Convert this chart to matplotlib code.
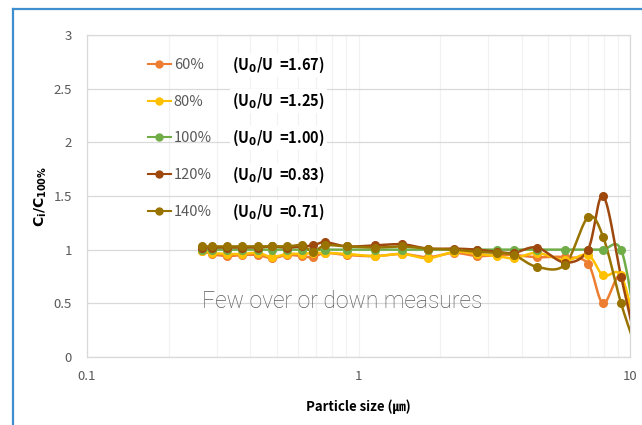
import numpy as np
import matplotlib
matplotlib.use("Agg")
import matplotlib.pyplot as plt
from matplotlib.lines import Line2D
from matplotlib.ticker import FixedLocator, NullFormatter

plt.rcParams['font.family'] = ['Noto Sans CJK KR', 'DejaVu Sans']

# Particle size bins (um)
sizes = [0.265, 0.288, 0.328, 0.373, 0.427, 0.48, 0.545, 0.62, 0.68, 0.753, 0.908,
         1.15, 1.45, 1.8, 2.25, 2.73, 3.24, 3.74, 4.54, 5.76, 7.0, 7.96, 9.27, 10.5]

# Concentration ratio C_i / C_100% for each flow setting
r60 = [0.99, 0.96, 0.94, 0.95, 0.95, 0.92, 0.95, 0.94, 0.93, 0.97, 0.95, 0.94,
       0.96, 0.93, 0.97, 0.94, 0.95, 0.95, 0.93, 0.93, 0.87, 0.50, 0.75, 0.09]
r80 = [0.99, 0.97, 0.96, 0.96, 0.97, 0.93, 0.96, 0.96, 0.97, 0.97, 0.96, 0.94,
       0.96, 0.92, 0.98, 0.96, 0.94, 0.92, 0.97, 0.90, 0.95, 0.76, 0.76, 0.25]
r100 = [1.00] * 23 + [0.31]
r120 = [1.02, 1.02, 1.02, 1.02, 1.02, 1.03, 1.02, 1.03, 1.04, 1.07, 1.03, 1.04,
        1.05, 1.01, 1.01, 1.00, 0.98, 0.97, 1.02, 0.88, 1.00, 1.50, 0.75, 0.14]
r140 = [1.03, 1.03, 1.03, 1.03, 1.03, 1.03, 1.03, 1.04, 0.98, 1.04, 1.03, 1.02,
        1.03, 1.01, 1.00, 0.98, 0.97, 0.95, 0.84, 0.86, 1.30, 1.12, 0.50, 0.09]

labels = ['60%', '80%', '100%', '120%', '140%']
ratios = ['1.67', '1.25', '1.00', '0.83', '0.71']
colors = ['#ED7D31', '#FFC000', '#70AD47', '#9E480E', '#997300']
series = [r60, r80, r100, r120, r140]


def smooth(x, y, n=30):
    """Catmull-Rom smoothing in log-x space (like a smoothed line chart)."""
    lx = np.log10(np.asarray(x, float))
    yy = np.asarray(y, float)
    P = np.column_stack([lx, yy])
    P = np.vstack([P[0], P, P[-1]])
    out = []
    t = np.linspace(0, 1, n, endpoint=False)[:, None]
    for i in range(1, len(P) - 2):
        p0, p1, p2, p3 = P[i - 1], P[i], P[i + 1], P[i + 2]
        c = 0.5 * ((2 * p1) + (-p0 + p2) * t + (2 * p0 - 5 * p1 + 4 * p2 - p3) * t ** 2
                   + (-p0 + 3 * p1 - 3 * p2 + p3) * t ** 3)
        out.append(c)
    out.append(P[-2][None, :])
    c = np.vstack(out)
    return 10 ** c[:, 0], c[:, 1]


fig = plt.figure(figsize=(6.42, 4.25), dpi=100)
ax = fig.add_axes([87 / 642, 1 - 357 / 425, (630 - 87) / 642, (357 - 35) / 425])

ax.set_xscale('log')
ax.set_xlim(0.1, 10)
ax.set_ylim(0, 3)
ax.set_yticks([0, 0.5, 1, 1.5, 2, 2.5, 3])
ax.set_yticklabels(['0', '0.5', '1', '1.5', '2', '2.5', '3'])
ax.xaxis.set_major_locator(FixedLocator([0.1, 1, 10]))
ax.set_xticklabels(['0.1', '1', '10'])
ax.xaxis.set_minor_locator(FixedLocator([k * 10.0 ** e for e in (-1, 0) for k in range(2, 10)]))
ax.xaxis.set_minor_formatter(NullFormatter())

ax.grid(axis='y', which='major', color='#D9D9D9', lw=0.9)
ax.grid(axis='x', which='both', color='#F2F2F2', lw=0.9)
ax.set_axisbelow(True)
for s in ax.spines.values():
    s.set_color('#D9D9D9')
    s.set_linewidth(0.9)
ax.tick_params(axis='both', which='both', length=0, labelsize=9.5, colors='#595959')
ax.tick_params(axis='x', pad=9)
ax.tick_params(axis='y', pad=11)

handles = []
for lab, col, vals in zip(labels, colors, series):
    xs, ys = smooth(sizes, vals)
    ax.plot(xs, ys, color=col, lw=1.8, solid_capstyle='round', zorder=3)
    ax.plot(sizes, vals, 'o', color=col, ms=5.5, zorder=4)
    handles.append(Line2D([], [], color=col, lw=1.5, marker='o', ms=5))

leg = ax.legend(handles, labels, loc='upper left', bbox_to_anchor=(0.101, 0.947),
                frameon=False, fontsize=10.5, labelspacing=1.56, handlelength=1.58,
                handletextpad=0.2, borderaxespad=0)
for t in leg.get_texts():
    t.set_color('#595959')

row_y = [65, 101, 138, 175, 212]
for r, yp in zip(ratios, row_y):
    ax.text((232 - 87) / 543, (357 - yp) / 322, r'(U$_\mathbf{0}$/U  =' + r + ')',
            transform=ax.transAxes, fontsize=10.5, fontweight='bold', va='center',
            ha='left', color='#000000',
            bbox=dict(facecolor='white', edgecolor='none', pad=1.5))

ax.text((202 - 87) / 543, (357 - 302) / 322, 'Few over or down measures',
        transform=ax.transAxes, fontsize=16.5, color='#595959', va='center',
        ha='left', family=['Roboto', 'DejaVu Sans'], fontweight='light')

ax.set_xlabel('Particle size (㎛)', fontsize=9.5, fontweight='bold', labelpad=12)
ax.set_ylabel(r'$\mathbf{C_i/C_{100\%}}$', fontsize=10, labelpad=3)

# Outer frame of the chart area
fig.add_artist(Line2D([12.5 / 642, 1.0], [1 - 8.5 / 425] * 2, color='#3F8ED0', lw=1.6,
                      transform=fig.transFigure))
fig.add_artist(Line2D([12.5 / 642] * 2, [0.0, 1 - 8.5 / 425], color='#3F8ED0', lw=1.6,
                      transform=fig.transFigure))

fig.savefig('out.png', dpi=100)
